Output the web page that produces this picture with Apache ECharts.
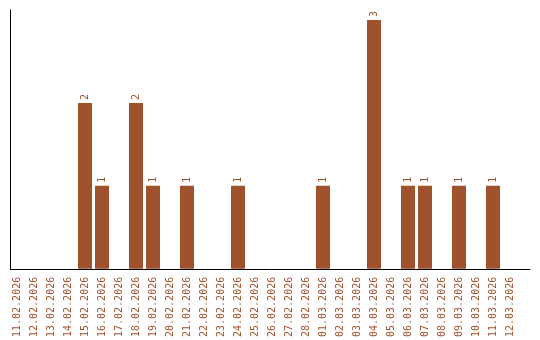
<!DOCTYPE html>
<html><head><meta charset="utf-8">
<script src="https://cdn.jsdelivr.net/npm/echarts@6/dist/echarts.min.js"></script>
<style>html,body{margin:0;padding:0;background:#fff}#c{width:540px;height:340px}</style>
</head><body><div id="c"></div>
<script>
const categories = ["11.02.2026","12.02.2026","13.02.2026","14.02.2026","15.02.2026","16.02.2026","17.02.2026","18.02.2026","19.02.2026","20.02.2026","21.02.2026","22.02.2026","23.02.2026","24.02.2026","25.02.2026","26.02.2026","27.02.2026","28.02.2026","01.03.2026","02.03.2026","03.03.2026","04.03.2026","05.03.2026","06.03.2026","07.03.2026","08.03.2026","09.03.2026","10.03.2026","11.03.2026","12.03.2026"];
const values = [0,0,0,0,2,1,0,2,1,0,1,0,0,1,0,0,0,0,1,0,0,3,0,1,1,0,1,0,1,0];
const yMax = 3.12;
const color = '#A0522D';
const font = 'DejaVu Sans Mono';
const chart = echarts.init(document.getElementById('c'), null, {renderer:'canvas'});
chart.setOption({
  animation:false,
  grid:[
    {left:8.5, width:510, top:10, bottom:71, containLabel:false},
    {left:10.5, right:10, top:10, bottom:71, containLabel:false}
  ],
  xAxis:[
    {type:'category', gridIndex:0, data:categories, axisLine:{show:false}, axisTick:{show:false},
     axisLabel:{rotate:90, interval:0, margin:8, color:color, fontFamily:font, fontSize:10}},
    {type:'value', gridIndex:1, min:0, max:1, axisLine:{show:true, lineStyle:{color:'#000', width:1}}, axisTick:{show:false}, axisLabel:{show:false}, splitLine:{show:false}}
  ],
  yAxis:[
    {type:'value', gridIndex:0, min:0, max:yMax, show:false, splitLine:{show:false}},
    {type:'value', gridIndex:1, min:0, max:1, axisLine:{show:true, onZero:false, lineStyle:{color:'#000', width:1}}, axisTick:{show:false}, axisLabel:{show:false}, splitLine:{show:false}}
  ],
  series:[{
    type:'bar', xAxisIndex:0, yAxisIndex:0, data:values.map(v=>v===0?null:v), barWidth:14,
    itemStyle:{color:color},
    label:{show:true, position:'top', rotate:90, align:'left', verticalAlign:'middle', distance:3, color:color, fontFamily:font, fontSize:10}
  }]
});
</script></body></html>
